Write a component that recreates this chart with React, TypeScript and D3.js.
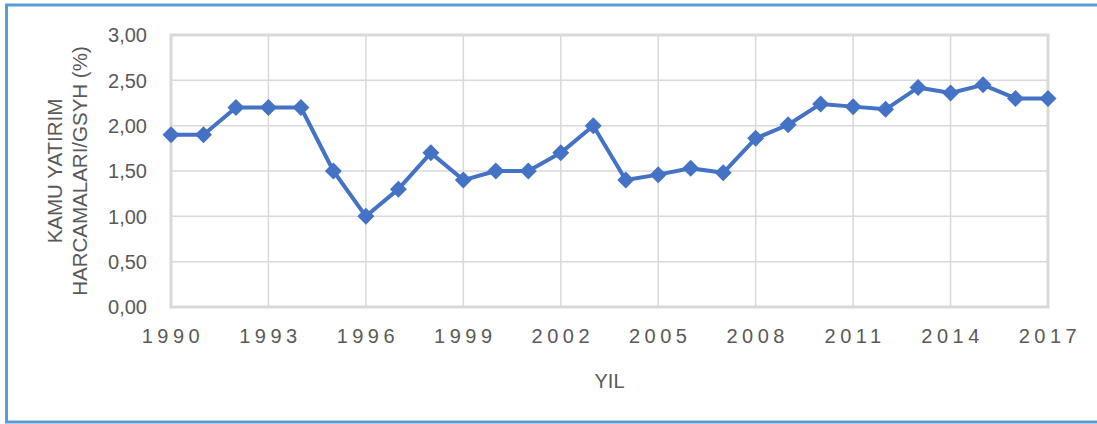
import React from "react";
import * as d3 from "d3";

const years = [1990,1991,1992,1993,1994,1995,1996,1997,1998,1999,2000,2001,2002,2003,2004,2005,2006,2007,2008,2009,2010,2011,2012,2013,2014,2015,2016,2017];
const values = [1.9,1.9,2.2,2.2,2.2,1.5,1.0,1.3,1.7,1.4,1.5,1.5,1.7,2.0,1.4,1.46,1.53,1.48,1.86,2.01,2.24,2.21,2.18,2.42,2.36,2.45,2.30,2.30];
const xTicks = [1990,1993,1996,1999,2002,2005,2008,2011,2014,2017];
const yTicks = [0,0.5,1,1.5,2,2.5,3];
const yTitleLines = ["KAMU YATIRIM", "HARCAMALARI/GSYH (%)"];
const xTitle = "YIL";

const W = 1097, H = 424;
const left = 171, right = 1048, top = 35, bottom = 307;
const font = "'Liberation Sans', Arial, sans-serif";

export default function App() {
  const x = d3.scaleLinear().domain([1990, 2017]).range([left, right]);
  const y = d3.scaleLinear().domain([0, 3]).range([bottom, top]);
  const line = d3.line<number>().x((_, i) => x(years[i])).y(d => y(d));
  const fmt = (v: number) => v.toFixed(2).replace(".", ",");
  const grid = "#D9D9D9";
  const txt = "#595959";
  return (
    <svg width={W} height={H} style={{ position: "absolute", left: 0, top: 0, background: "#fff" }}>
      <rect x={6.5} y={5} width={W + 2} height={417} fill="#fff" stroke="#5B9BD5" strokeWidth={3} />
      {yTicks.map(t => (
        <line key={"gy" + t} x1={left} x2={right} y1={y(t)} y2={y(t)} stroke={grid} strokeWidth={1.5} />
      ))}
      {xTicks.map(t => (
        <line key={"gx" + t} x1={x(t)} x2={x(t)} y1={top} y2={bottom} stroke={grid} strokeWidth={1.5} />
      ))}
      <rect x={left} y={top} width={right - left} height={bottom - top} fill="none" stroke={grid} strokeWidth={3} />
      {yTicks.map(t => (
        <text key={"ty" + t} x={147} y={y(t)} dy="0.36em" textAnchor="end" fontFamily={font} fontSize={20} fill={txt}>{fmt(t)}</text>
      ))}
      {xTicks.map(t => (
        <text key={"tx" + t} x={x(t) + 2} y={343} textAnchor="middle" fontFamily={font} fontSize={20} letterSpacing={4.5} fill={txt}>{t}</text>
      ))}
      <text x={(left + right) / 2} y={388} textAnchor="middle" fontFamily={font} fontSize={20} fill={txt}>{xTitle}</text>
      {yTitleLines.map((s, i) => (
        <text key={s} transform={`translate(${62 + i * 25},${(top + bottom) / 2}) rotate(-90)`} textAnchor="middle" fontFamily={font} fontSize={20.5} fill={txt}>{s}</text>
      ))}
      <path d={line(values) || ""} fill="none" stroke="#4472C4" strokeWidth={4} strokeLinejoin="round" />
      {values.map((v, i) => {
        const cx = x(years[i]), cy = y(v), r = 8.5;
        return <polygon key={"d" + i} points={`${cx},${cy - r} ${cx + r},${cy} ${cx},${cy + r} ${cx - r},${cy}`} fill="#4472C4" />;
      })}
    </svg>
  );
}
